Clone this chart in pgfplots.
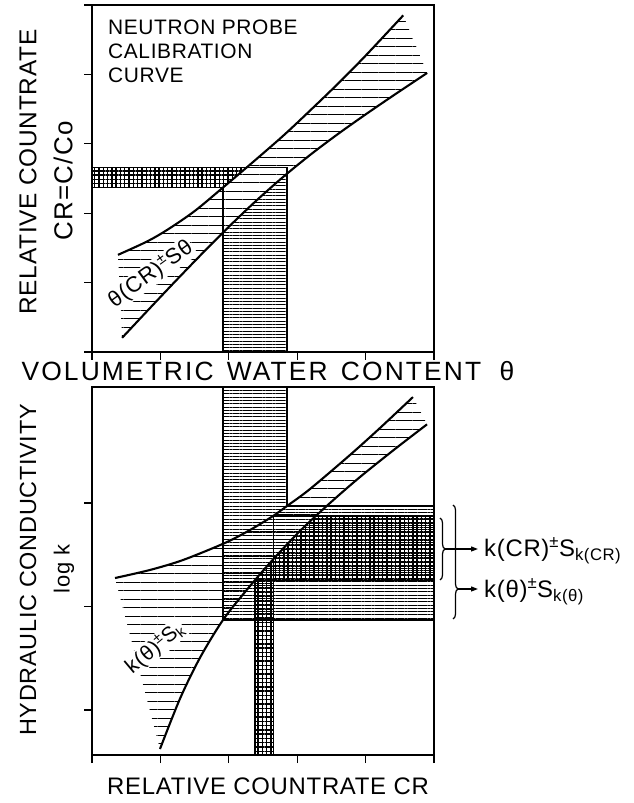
\documentclass[border=0pt]{standalone}
\usepackage{fontspec}
\setmainfont{Liberation Sans}
\usepackage{pgfplots}
\pgfplotsset{compat=1.18}
\usepgfplotslibrary{fillbetween}
\usetikzlibrary{patterns.meta,decorations.pathreplacing,arrows.meta}

% lettering sizes: size, extra letter spacing
\newcommand{\lett}[2]{\fontsize{#1}{1.15\dimexpr #1pt\relax}\selectfont\addfontfeature{LetterSpace=#2}}

\pgfplotsset{
  panel/.style={scale only axis, anchor=south west, xmin=0, xmax=5, width=342bp,
    axis line style={line width=1.5bp}, tick align=outside, tick pos=left,
    major tick length=8bp, major tick style={line width=1.3bp,black},
    xticklabels={}, yticklabels={}, xtick={0,...,5}},
  curve/.style={line width=2.1bp, black, smooth, mark=none},
  edge/.style={line width=1.5bp, black, mark=none},
  sparse/.style={draw=none, pattern={Lines[angle=0,distance=8.5bp,line width=0.8bp]}},
  dense/.style={draw=none, pattern={Lines[angle=0,distance=3.3bp,line width=0.8bp]}},
  cross/.style={draw=none, pattern={Hatch[angle=0,distance=4.3bp,line width=1.4bp]}},
}

\begin{document}
\begin{tikzpicture}
\path (0,0) rectangle (634bp,803bp);

% top panel: calibration curve theta(CR) with band
\begin{axis}[panel, at={(92bp,451bp)}, height=347bp, ymin=0, ymax=5, ytick={0,...,5}]
\addplot[curve, name path=U] coordinates {(0.38,1.40)(0.8,1.59)(1.10,1.76)(1.5,2.03)(1.915,2.37)(2.31,2.70)(2.8,3.12)(3.2,3.49)(3.6,3.87)(4.0,4.27)(4.55,4.85)};
\addplot[curve, name path=L] coordinates {(0.44,0.204)(0.8,0.583)(1.2,1.000)(1.6,1.408)(2.0,1.804)(2.4,2.179)(2.8,2.527)(3.2,2.848)(3.6,3.144)(4.0,3.423)(4.4,3.692)(4.9,4.021)};
\addplot[sparse] fill between[of=U and L];
\addplot[dense] coordinates {(1.915,0)(1.915,1.72)(2.0,1.804)(2.4,2.179)(2.8,2.527)(2.85,2.569)(2.85,0)} --cycle;
\addplot[cross] coordinates {(0,2.37)(1.915,2.37)(2.256,2.655)(0,2.655)} --cycle;
\addplot[edge] coordinates {(0,2.655)(2.85,2.655)(2.85,0)};
\addplot[edge] coordinates {(0,2.37)(1.915,2.37)(1.915,0)};
\node[rotate=36, fill=white, inner sep=1bp, font=\lett{22}{4}] at (axis cs:0.86,1.12) {θ(CR)\textsuperscript{±}Sθ};
\end{axis}

% bottom panel: k(theta) and k(CR)
\begin{axis}[panel, at={(92bp,48bp)}, height=368bp, ymin=0.565, ymax=4.121, ytick={1,2,3}]
\addplot[curve, name path=Uk] coordinates {(0.336,2.275)(0.848,2.353)(1.330,2.449)(1.944,2.614)(2.310,2.739)(2.646,2.874)(2.851,2.971)(3.187,3.135)(3.772,3.464)(4.211,3.725)(4.693,4.024)};
\addplot[curve, name path=Lk] coordinates {(0.994,0.623)(1.287,1.110)(1.579,1.505)(1.915,1.870)(2.25,2.150)(2.60,2.420)(3.041,2.730)(3.48,3.000)(3.918,3.251)(4.43,3.522)(4.898,3.760)};
\addplot[sparse] fill between[of=Uk and Lk];
\addplot[dense] coordinates {(1.915,4.121)(1.915,1.870)(5,1.870)(5,2.97)(2.85,2.97)(2.85,4.121)} --cycle;
\addplot[cross] coordinates {(2.38,0.565)(2.38,2.25)(2.60,2.42)(3.041,2.73)(3.277,2.875)(5,2.875)(5,2.25)(2.655,2.25)(2.655,0.565)} --cycle;
\addplot[edge] coordinates {(1.915,4.121)(1.915,1.870)(5,1.870)};
\addplot[edge] coordinates {(2.85,4.121)(2.85,2.97)(5,2.97)};
\addplot[edge] coordinates {(2.38,0.565)(2.38,2.25)(5,2.25)};
\addplot[edge] coordinates {(2.655,0.565)(2.655,2.875)(5,2.875)};
\node[rotate=40, fill=white, inner sep=1bp, font=\lett{21}{4}] at (axis cs:0.92,1.60) {k(θ)\textsuperscript{±}S\textsubscript{k}};
\end{axis}

% titles and axis labels
\node[anchor=north west, inner sep=0, align=left, font=\lett{21}{3}] at (108bp,783bp) {NEUTRON PROBE\\CALIBRATION\\CURVE};
\node[rotate=90, font=\lett{24.5}{3}] at (28bp,631bp) {RELATIVE COUNTRATE};
\node[rotate=90, font=\lett{26}{5}] at (63bp,622bp) {CR=C/Co};
\node[rotate=90, font=\lett{23.5}{3}] at (28bp,233bp) {HYDRAULIC CONDUCTIVITY};
\node[rotate=90, font=\lett{22}{3}] at (64bp,234bp) {log k};
\node[font=\lett{26.5}{8}] at (268bp,432bp) {VOLUMETRIC\hspace{0.5em}WATER\hspace{0.5em}CONTENT\hspace{0.7em}θ};
\node[font=\lett{24}{3}] at (268bp,17bp) {RELATIVE COUNTRATE CR};

% braces and arrows on the right
\draw[line width=1.2bp, decorate, decoration={brace, amplitude=5bp, aspect=0.5}] (440bp,285bp) -- (440bp,223bp);
\draw[line width=1.2bp, decorate, decoration={brace, amplitude=5bp, aspect=0.737}] (453bp,298bp) -- (453bp,184bp);
\draw[line width=1.2bp, -{Triangle[length=7bp,width=5bp]}] (445bp,254bp) -- (478bp,254bp);
\draw[line width=1.2bp, -{Triangle[length=7bp,width=5bp]}] (458bp,214bp) -- (478bp,214bp);
\node[anchor=west, inner sep=0, font=\lett{24}{3}] at (484bp,252bp) {k(CR)\textsuperscript{±}S\textsubscript{k(CR)}};
\node[anchor=west, inner sep=0, font=\lett{24}{3}] at (484bp,211bp) {k(θ)\textsuperscript{±}S\textsubscript{k(θ)}};
\end{tikzpicture}
\end{document}
